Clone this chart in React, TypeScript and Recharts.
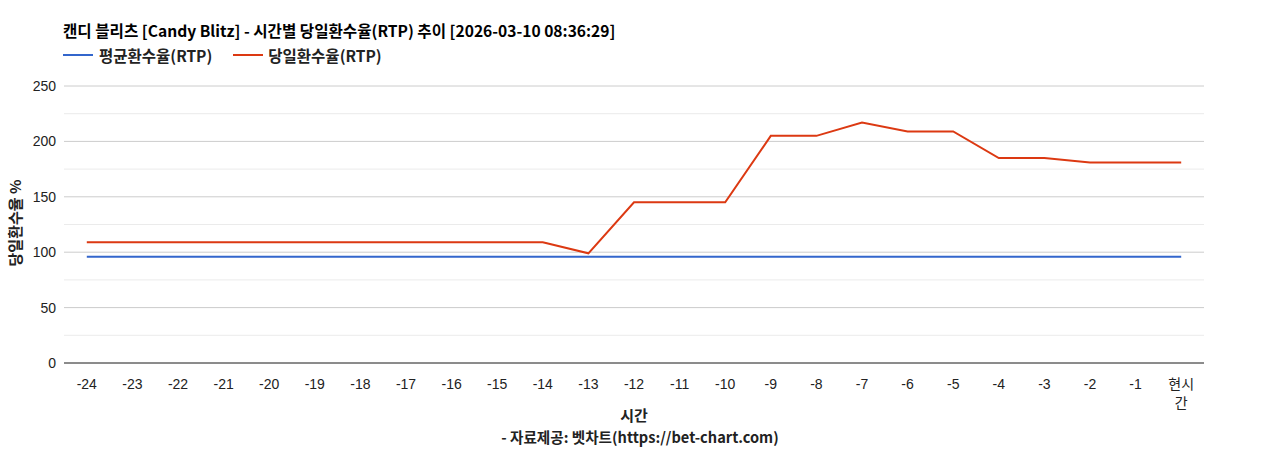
import React from 'react';
import { LineChart, Line, XAxis, YAxis, CartesianGrid, ReferenceLine } from 'recharts';

const hours = ['-24','-23','-22','-21','-20','-19','-18','-17','-16','-15','-14','-13','-12','-11','-10','-9','-8','-7','-6','-5','-4','-3','-2','-1','현시간'];
const avgRtp = [96,96,96,96,96,96,96,96,96,96,96,96,96,96,96,96,96,96,96,96,96,96,96,96,96];
const dailyRtp = [109,109,109,109,109,109,109,109,109,109,109,99,145,145,145,205,205,217,209,209,185,185,181,181,181];
const yTicks = [0, 50, 100, 150, 200, 250];
const yMinor = [25, 75, 125, 175, 225];

const title = '캔디 블리츠 [Candy Blitz] - 시간별 당일환수율(RTP) 추이 [2026-03-10 08:36:29]';
const avgName = '평균환수율(RTP)';
const dailyName = '당일환수율(RTP)';
const xTitle = '시간';
const yTitle = '당일환수율 %';
const source = '- 자료제공: 벳차트(https://bet-chart.com)';

const data = hours.map((h, i) => ({ hour: h, avg: avgRtp[i], daily: dailyRtp[i] }));

const FONT = '"Liberation Sans", Arial, "Noto Sans CJK KR", sans-serif';
const KFONT = '"Noto Sans CJK KR", "Liberation Sans", sans-serif';
const RED = '#dc3912';
const BLUE = '#3366cc';

const XTick = (props: any) => {
  const { x, y, payload } = props;
  const v: string = String(payload.value);
  const lines: string[] = [];
  if (/^-?\d+$/.test(v)) lines.push(v);
  else for (let i = 0; i < v.length; i += 2) lines.push(v.slice(i, i + 2));
  return (
    <text x={x} y={y} textAnchor="middle" fontFamily={FONT} fontSize={14} fill="#222">
      {lines.map((l, i) => (
        <tspan key={i} x={x} dy={i === 0 ? 18 : 19}>{l}</tspan>
      ))}
    </text>
  );
};

const boldText: React.CSSProperties = {
  position: 'absolute',
  fontFamily: KFONT,
  fontSize: 15,
  lineHeight: '20px',
  fontWeight: 'bold',
  whiteSpace: 'nowrap',
};

export default function App() {
  return (
    <div style={{ position: 'absolute', left: 0, top: 0, width: 1268, height: 450, fontFamily: FONT, background: '#fff' }}>
      <LineChart width={1268} height={450} data={data} margin={{ top: 86, right: 64, bottom: 0, left: 0 }}>
        <CartesianGrid horizontal vertical={false} stroke="#cccccc" />
        {yMinor.map((v) => (
          <ReferenceLine key={v} y={v} stroke="#ebebeb" strokeWidth={1} />
        ))}
        <XAxis
          dataKey="hour"
          height={87}
          padding={{ left: 22.8, right: 22.8 }}
          tickLine={false}
          axisLine={{ stroke: '#333', strokeWidth: 1 }}
          tick={<XTick />}
          interval={0}
        />
        <YAxis
          width={64}
          domain={[0, 250]}
          ticks={yTicks}
          axisLine={false}
          tickLine={false}
          tickMargin={2}
          tick={{ fontFamily: FONT, fontSize: 14, fill: '#222' }}
        />
        <Line type="linear" dataKey="avg" stroke={BLUE} strokeWidth={2} dot={false} isAnimationActive={false} />
        <Line type="linear" dataKey="daily" stroke={RED} strokeWidth={2} dot={false} isAnimationActive={false} />
      </LineChart>

      <div style={{ ...boldText, fontSize: 15.6, left: 63, top: 20, color: '#000' }}>{title}</div>

      <div style={{ ...boldText, fontSize: 15.5, left: 63, top: 45, display: 'flex', alignItems: 'center', color: '#222' }}>
        <span style={{ display: 'inline-block', width: 30, height: 2, background: BLUE, marginRight: 6 }} />
        <span style={{ marginRight: 21 }}>{avgName}</span>
        <span style={{ display: 'inline-block', width: 30, height: 2, background: RED, marginRight: 5 }} />
        <span>{dailyName}</span>
      </div>

      <div style={{ ...boldText, left: 15, top: 223, transform: 'translate(-50%, -50%) rotate(-90deg)', color: '#222' }}>{yTitle}</div>

      <div style={{ ...boldText, left: 0, width: 1268, top: 405, textAlign: 'center', color: '#222' }}>{xTitle}</div>
      <div style={{ ...boldText, fontSize: 14.6, left: 0, width: 1280, top: 427, textAlign: 'center', color: '#222' }}>{source}</div>
    </div>
  );
}
